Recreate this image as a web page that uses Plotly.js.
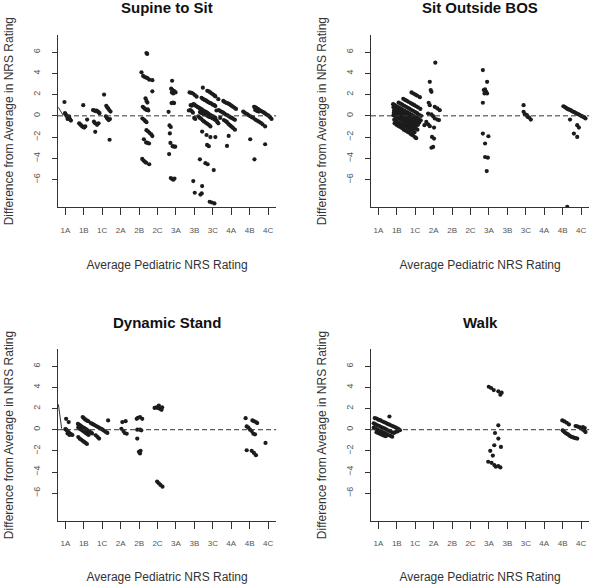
<!DOCTYPE html>
<html>
<head>
<meta charset="utf-8">
<script src="https://cdn.plot.ly/plotly-3.0.1.min.js"></script>
<style>
html,body{margin:0;padding:0;background:#fff;}
#chart{width:591px;height:584px;}
</style>
</head>
<body>
<div id="chart"></div>
<script>
// ---- Data ----
const tickLabels = ['1A','1B','1C','2A','2B','2C','3A','3B','3C','4A','4B','4C'];
const tickPositions = [1,2,3,4,5,6,7,8,9,10,11,12];
const yTickValues = [-6,-4,-2,0,2,4,6];
const panelTitles = ['Supine to Sit','Sit Outside BOS','Dynamic Stand','Walk'];

// [average rating, difference from average]
const supinePts = [
  [0.95,1.3],[0.98,0.25],[1.02,0.15],[1.06,0.0],[1.1,-0.05],[1.14,-0.1],[1.18,-0.2],[1.22,-0.25],[1.26,-0.35],[1.3,-0.45],[1.12,-0.3],[1.2,-0.05],
  [1.75,-0.7],[1.8,-0.8],[1.86,-0.9],[1.92,-1.0],[1.97,-1.05],[2.02,-1.1],[2.08,-1.0],[1.97,1.0],[2.18,-0.35],
  [2.5,0.55],[2.55,0.5],[2.6,0.5],[2.65,0.45],[2.7,0.5],[2.75,0.4],[2.8,0.35],[2.85,0.25],[2.55,-0.55],[2.62,-0.7],[2.72,-0.85],[2.62,-1.5],[2.8,-0.7],
  [3.1,2.0],[3.22,0.95],[3.27,0.8],[3.32,0.7],[3.38,0.55],[3.45,0.4],[3.2,-0.05],[3.25,-0.2],[3.3,-0.3],[3.35,-0.4],[3.42,-0.3],[3.4,-2.25],
  [5.13,4.1],[5.22,3.75],[5.3,3.65],[5.38,3.6],[5.45,3.55],[5.55,3.4],[5.72,3.35],[5.4,5.9],[5.44,5.82],[5.72,2.3],[5.35,1.65],[5.4,1.4],[5.45,1.25],
  [5.2,0.85],[5.26,0.75],[5.32,0.65],[5.4,0.55],[5.47,0.6],[5.5,0.5],[5.18,-0.25],[5.26,-0.35],[5.34,-0.5],[5.4,-0.6],[5.4,-1.35],[5.48,-1.45],[5.56,-1.6],
  [5.66,-1.75],[5.72,-1.9],[5.26,-2.2],[5.38,-2.5],[5.46,-2.55],[5.54,-2.6],[5.17,-4.05],[5.24,-4.2],[5.3,-4.3],[5.38,-4.4],[5.55,-4.55],
  [6.79,3.3],[6.74,2.55],[6.8,2.45],[6.86,2.35],[6.92,2.3],[6.98,2.2],[6.78,2.2],[6.85,2.1],[6.76,1.2],[6.84,1.25],[6.9,1.2],[6.6,0.38],[6.65,-0.9],[6.72,-1.05],
  [6.67,-1.65],[6.7,-2.55],[6.82,-2.85],[6.9,-2.9],[6.96,-2.9],[6.63,-3.6],[6.72,-5.85],[6.8,-5.95],[6.86,-6.0],[6.92,-5.9],
  [7.74,2.2],[7.84,2.15],[7.92,2.1],[8.02,1.95],[8.12,1.8],
  [8.46,2.65],[8.7,2.35],[8.78,2.3],[8.86,2.2],[8.94,2.1],[9.02,2.0],[9.1,1.9],[9.14,1.82],
  [8.39,1.7],[8.45,1.6],[8.5,1.55],[8.56,1.5],[8.62,1.45],[8.68,1.38],[8.74,1.3],[8.8,1.25],[8.86,1.2],[8.92,1.15],[9.0,1.05],[9.08,1.0],[9.14,0.92],
  [7.8,1.0],[7.86,0.95],[7.92,1.05],[7.97,1.1],[8.03,1.0],[8.1,0.92],[8.16,0.85],[8.22,0.8],[8.28,0.72],[8.34,0.65],[8.4,0.6],[8.46,0.52],[8.52,0.45],
  [8.58,0.4],[8.64,0.35],[8.7,0.28],[8.76,0.2],[8.82,0.12],[8.88,0.05],[8.94,0.0],[9.0,-0.05],[9.06,-0.1],[9.14,-0.2],
  [8.3,0.35],[8.4,0.25],[8.5,0.15],[8.6,0.1],[8.7,0.0],[8.8,-0.1],[8.9,-0.15],[9.0,-0.25],[9.1,-0.35],[9.2,-0.45],
  [8.22,-0.05],[8.3,-0.2],[8.38,-0.3],[8.46,-0.45],[8.54,-0.55],[8.62,-0.65],[8.7,-0.75],[8.78,-0.85],[8.87,-1.0],
  [7.78,0.55],[7.85,0.45],[7.92,0.3],[7.99,-0.2],[8.05,-0.3],[7.7,0.5],
  [8.42,-1.48],[8.66,-1.8],[8.87,-2.0],[9.14,-2.0],[8.69,-2.74],[8.78,-2.85],[9.86,-1.89],[9.77,-2.83],[11.03,-2.2],[11.84,-2.67],[11.26,-4.09],
  [8.3,-4.09],[8.6,-4.45],[8.72,-4.55],[9.05,-5.1],[7.94,-6.13],[8.42,-6.6],[8.02,-7.23],[8.33,-7.4],[8.4,-7.3],[8.83,-8.08],[9.09,-8.24],[8.95,-8.15],
  [9.3,1.57],
  [9.57,1.4],[9.64,1.3],[9.7,1.25],[9.77,1.2],[9.84,1.15],[9.9,1.1],[9.97,1.0],[10.04,0.92],[10.1,0.85],[10.18,0.75],[10.26,0.65],
  [9.32,0.55],[9.4,0.45],[9.48,0.38],[9.56,0.3],[9.64,0.2],[9.72,0.1],[9.8,0.05],[9.88,-0.05],[9.96,-0.15],[10.04,-0.2],[10.12,-0.3],[10.2,-0.38],
  [9.6,-0.4],[9.7,-0.5],[9.77,-0.6],[9.84,-0.75],[9.9,-0.85],[9.97,-0.95],[10.04,-1.05],[10.1,-1.15],[10.2,-1.3],
  [9.2,0.5],[9.25,-0.6],[9.3,-0.7],[9.4,-0.2],
  [10.65,0.4],[10.72,0.3],[10.8,0.22],[10.88,0.15],[10.95,0.05],[11.05,-0.05],[11.12,-0.13],
  [11.24,0.85],[11.3,0.8],[11.36,0.75],[11.42,0.65],[11.48,0.6],[11.55,0.52],[11.62,0.45],[11.7,0.38],[11.78,0.3],[11.85,0.2],[11.92,0.12],[12.0,0.05],
  [12.06,-0.05],[12.12,-0.15],[12.19,-0.3],
  [11.2,-0.2],[11.3,-0.35],[11.4,-0.45],[11.5,-0.55],[11.6,-0.65],[11.7,-0.8],[11.84,-1.0],
  [11.3,0.55],[11.4,0.45],[11.5,0.4]
];
const supineLineX = [0.62,0.88];
const supineLineY = [0.8,0.05];

const sitPts = [
  [1.8,1.1],[1.9,1.0],[2.0,0.9],[2.1,0.8],[2.2,0.7],[2.3,0.6],[2.4,0.5],[2.5,0.4],[2.6,0.3],[2.7,0.2],[2.8,0.1],[2.9,0.0],[3.0,-0.1],[3.1,-0.2],[3.2,-0.3],[3.3,-0.42],
  [1.82,0.8],[1.92,0.7],[2.02,0.6],[2.12,0.5],[2.22,0.4],[2.32,0.3],[2.42,0.2],[2.52,0.1],[2.62,0.0],[2.72,-0.1],[2.82,-0.2],[2.92,-0.3],[3.02,-0.4],[3.12,-0.5],[3.22,-0.62],
  [1.85,0.5],[1.95,0.4],[2.05,0.3],[2.15,0.2],[2.25,0.1],[2.35,0.0],[2.45,-0.1],[2.55,-0.2],[2.65,-0.3],[2.75,-0.4],[2.85,-0.5],[2.95,-0.6],[3.05,-0.7],[3.15,-0.85],
  [1.84,0.28],[1.94,0.18],[2.04,0.08],[2.14,-0.02],[2.24,-0.12],[2.34,-0.22],[2.44,-0.32],[2.54,-0.42],[2.64,-0.52],[2.74,-0.62],[2.84,-0.72],[2.94,-0.82],[3.04,-0.95],
  [1.82,0.05],[1.92,-0.05],[2.02,-0.15],[2.12,-0.25],[2.22,-0.35],[2.32,-0.45],[2.42,-0.55],[2.52,-0.7],[2.62,-0.8],[2.72,-0.9],[2.82,-1.0],[2.92,-1.1],[3.02,-1.2],[3.12,-1.3],
  [1.86,-0.38],[1.96,-0.48],[2.06,-0.58],[2.16,-0.68],[2.26,-0.78],[2.36,-0.88],[2.46,-0.98],[2.56,-1.1],[2.66,-1.2],[2.76,-1.3],[2.86,-1.42],[2.96,-1.55],
  [1.88,-0.7],[1.98,-0.85],[2.08,-0.95],[2.18,-1.05],[2.28,-1.15],[2.38,-1.3],[2.48,-1.4],[2.58,-1.5],[2.68,-1.6],[2.78,-1.75],[2.88,-1.85],[2.98,-2.0],[3.05,-2.1],
  [2.35,1.6],[2.45,1.5],[2.55,1.4],[2.65,1.3],[2.75,1.2],[2.85,1.1],[2.95,1.0],[3.05,0.9],[3.15,0.8],[3.28,0.65],
  [2.1,1.25],[2.2,1.15],[2.3,1.05],[2.4,0.95],[2.5,0.85],[2.6,0.75],[2.7,0.65],[2.8,0.55],[2.9,0.45],[3.0,0.35],[3.1,0.25],[3.2,0.12],[3.32,0.0],
  [2.8,2.2],[2.9,2.1],[3.0,2.0],[3.1,1.9],[3.25,1.75],
  [3.79,3.2],[3.84,2.42],[3.88,2.26],[4.09,5.0],[3.73,1.23],[3.79,1.0],[4.06,0.85],[4.2,0.7],[4.33,0.53],[3.7,0.22],[3.88,0.13],[3.97,-0.03],[4.06,-0.25],
  [4.2,-0.35],[4.29,-0.4],[3.6,-0.57],[3.7,-0.79],[3.79,-0.97],[4.02,-1.1],[3.91,-1.98],[4.02,-2.14],[3.97,-2.92],[3.88,-3.0],[3.5,-0.88],
  [6.67,4.3],[6.9,3.2],[6.72,2.42],[6.79,2.48],[6.85,2.26],[6.9,2.1],[6.76,2.1],[6.67,1.23],[6.67,-1.67],[6.97,-1.92],[6.79,-2.6],[6.79,-3.87],[6.94,-3.93],[6.88,-5.19],
  [8.88,1.0],[8.88,0.38],[8.95,0.16],[9.06,0.06],[9.09,-0.09],[9.18,-0.16],[9.27,-0.35],
  [11.04,0.9],[11.1,0.85],[11.16,0.78],[11.22,0.7],[11.29,0.63],[11.36,0.58],[11.43,0.53],[11.5,0.45],[11.58,0.38],[11.64,0.33],[11.7,0.28],[11.76,0.22],
  [11.83,0.16],[11.9,0.1],[11.97,0.03],[12.04,-0.03],[12.11,-0.09],[12.18,-0.15],[12.24,-0.25],
  [11.4,-0.35],[11.79,-0.88],[11.88,-1.1],[11.61,-1.67],[11.79,-1.98],[11.25,-8.55]
];

const dynPts = [
  [1.04,1.03],[1.18,0.72],[1.0,0.05],[1.05,0.0],[1.1,-0.1],[1.15,-0.2],[1.2,-0.3],[1.26,-0.38],[1.32,-0.45],[1.38,-0.5],[1.12,-0.35],[1.22,-0.5],
  [1.94,1.2],[2.0,1.1],[2.06,1.0],[2.12,0.92],[2.18,0.85],[2.25,0.8],
  [1.68,0.55],[1.75,0.45],[1.82,0.38],[1.88,0.3],[1.95,0.22],[2.02,0.15],[2.08,0.08],[2.15,0.0],[2.22,-0.08],[2.3,-0.18],[2.38,-0.25],[2.45,-0.35],
  [1.7,0.2],[1.78,0.1],[1.86,0.0],[1.94,-0.1],[2.02,-0.2],[2.1,-0.3],[2.18,-0.4],[2.26,-0.5],
  [1.7,-0.7],[1.78,-0.85],[1.86,-0.95],[1.94,-1.05],[2.02,-1.15],[2.1,-1.25],[2.17,-1.35],
  [2.38,0.63],[2.46,0.55],[2.54,0.48],[2.62,0.4],[2.7,0.32],[2.78,0.25],[2.86,0.15],[2.94,0.08],[3.02,0.0],[3.1,-0.1],[3.18,-0.2],[3.28,-0.3],
  [2.65,-0.53],[2.75,-0.7],[2.83,-0.84],[3.32,0.88],
  [4.09,0.72],[4.27,0.81],[4.04,0.09],[4.15,-0.13],[4.22,-0.31],[4.33,-0.38],
  [4.87,1.03],[4.94,1.13],[5.05,1.19],[5.17,1.03],[4.9,0.0],[5.05,0.0],[5.12,-0.06],[4.9,-0.84],[4.99,-2.09],[5.08,-2.0],[5.05,-2.25],
  [5.84,2.06],[5.95,2.12],[6.02,2.06],[6.13,1.97],[6.22,1.88],[6.07,2.28],[6.25,2.12],[5.98,-4.9],[6.07,-5.06],[6.16,-5.22],[6.27,-5.38],
  [10.78,1.09],[10.84,0.31],[10.93,0.19],[11.02,0.0],[11.11,-0.13],[11.2,-0.38],[11.29,-0.44],[11.15,0.88],[11.23,0.81],[11.34,0.72],[11.41,0.63],
  [10.84,-1.94],[11.11,-2.0],[11.23,-2.19],[11.34,-2.41],[11.86,-1.25]
];
const dynLineX = [0.62,0.8];
const dynLineY = [2.4,0.1];

const walkPts = [
  [0.8,1.1],[0.9,1.05],[1.0,0.95],[1.1,0.9],[1.2,0.8],[1.3,0.72],[1.4,0.65],[1.5,0.55],[1.6,0.48],[1.7,0.4],[1.8,0.32],[1.9,0.25],[2.0,0.15],[2.1,0.05],[2.17,-0.05],
  [0.75,0.6],[0.85,0.5],[0.95,0.42],[1.05,0.35],[1.15,0.25],[1.25,0.18],[1.35,0.1],[1.45,0.0],[1.55,-0.08],[1.65,-0.15],[1.75,-0.25],[1.85,-0.3],[1.95,-0.2],[2.05,-0.15],
  [0.75,0.2],[0.85,0.1],[0.95,0.02],[1.05,-0.08],[1.15,-0.15],[1.25,-0.25],[1.35,-0.33],[1.45,-0.42],[1.55,-0.5],[1.65,-0.58],[1.75,-0.66],
  [0.9,-0.25],[1.0,-0.32],[1.1,-0.4],[1.2,-0.48],[1.3,-0.55],[1.4,-0.62],[1.6,1.25],
  [6.99,4.06],[7.12,3.94],[7.26,3.75],[7.51,3.63],[7.62,3.31],[7.69,3.5],[7.51,0.41],[7.33,-0.31],[7.51,-0.84],[7.29,-1.47],[7.65,-1.63],[7.07,-2.0],
  [7.21,-2.44],[6.96,-3.03],[7.14,-3.13],[7.29,-3.34],[7.37,-3.5],[7.51,-3.44],[7.62,-3.56],
  [10.98,0.88],[11.1,0.78],[11.22,0.66],[11.34,0.5],[11.0,-0.05],[11.04,-0.13],[11.1,-0.22],[11.16,-0.31],[11.22,-0.38],[11.29,-0.44],[11.36,-0.55],
  [11.43,-0.63],[11.52,-0.7],[11.61,-0.75],[11.7,-0.8],[11.79,-0.84],[11.7,0.35],[11.79,0.31],[11.88,0.25],[11.97,0.19],[12.04,0.1],[12.11,0.0],
  [12.18,-0.1],[12.24,-0.22],[12.2,0.15],[12.1,0.25]
];

// ---- Build ----
const FONT = '"Liberation Sans", Arial, sans-serif';
const ptColor = '#1c1c1c';
function pts(arr, xa, ya){
  return {type:'scatter', mode:'markers', x:arr.map(p=>p[0]), y:arr.map(p=>p[1]),
    xaxis:xa, yaxis:ya, marker:{color:ptColor, size:4.2}, hoverinfo:'skip', showlegend:false};
}
function ln(xs, ys, xa, ya){
  return {type:'scatter', mode:'lines', x:xs, y:ys, xaxis:xa, yaxis:ya,
    line:{color:'#333', width:1}, hoverinfo:'skip', showlegend:false};
}
const traces = [
  pts(supinePts,'x','y'), ln(supineLineX, supineLineY,'x','y'),
  pts(sitPts,'x2','y2'),
  pts(dynPts,'x3','y3'), ln(dynLineX, dynLineY,'x3','y3'),
  pts(walkPts,'x4','y4')
];

const W = 591, H = 584;
const leftDom = [58/W, 276.2/W];
const rightDom = [371/W, 589.2/W];
const topDom = [1-207.3/H, 1-35/H];
const botDom = [1-520.7/H, 1-349.3/H];

function xax(dom, anchor){
  return {domain:dom, anchor:anchor, range:[0.6,12.44], showgrid:false, zeroline:false,
    showline:true, linecolor:'#333', linewidth:1,
    tickmode:'array', tickvals:tickPositions, ticktext:tickLabels,
    ticks:'outside', ticklen:7, tickcolor:'#333', tickwidth:1,
    ticklabelstandoff:8,
    tickfont:{family:FONT, size:8, color:'#555'},
    title:{text:'Average Pediatric NRS Rating', font:{family:FONT, size:12, color:'#333'}, standoff:26}};
}
function yax(dom, anchor){
  return {domain:dom, anchor:anchor, range:[-8.6,7.6], showgrid:false, zeroline:false,
    showline:true, linecolor:'#333', linewidth:1,
    tickmode:'array', tickvals:yTickValues,
    ticks:'outside', ticklen:5, tickcolor:'#333', tickwidth:1, tickangle:-90,
    ticklabelstandoff:8,
    tickfont:{family:FONT, size:9, color:'#555'},
    title:{text:'Difference from Average in NRS Rating', font:{family:FONT, size:12, color:'#333'}, standoff:16}};
}

const axPairs = [['x','y'],['x2','y2'],['x3','y3'],['x4','y4']];
const shapes = axPairs.map(([a,b])=>({type:'line', xref:a+' domain', yref:b, x0:0, x1:1, y0:0, y1:0,
  line:{color:'#333', width:1, dash:'5px,3px'}}));
const annotations = axPairs.map(([a,b],i)=>({text:'<b>'+panelTitles[i]+'</b>', xref:a+' domain', yref:b+' domain',
  x:0.5, y:1, xanchor:'center', yanchor:'middle', yshift:27, showarrow:false,
  font:{family:FONT, size:15, color:'#111'}}));

const layout = {
  width:W, height:H, margin:{l:0,r:0,t:0,b:0},
  paper_bgcolor:'#fff', plot_bgcolor:'#fff', showlegend:false,
  xaxis:xax(leftDom,'y'), yaxis:yax(topDom,'x'),
  xaxis2:xax(rightDom,'y2'), yaxis2:yax(topDom,'x2'),
  xaxis3:xax(leftDom,'y3'), yaxis3:yax(botDom,'x3'),
  xaxis4:xax(rightDom,'y4'), yaxis4:yax(botDom,'x4'),
  shapes:shapes, annotations:annotations
};
Plotly.newPlot('chart', traces, layout, {staticPlot:true, displayModeBar:false});
</script>
</body>
</html>
